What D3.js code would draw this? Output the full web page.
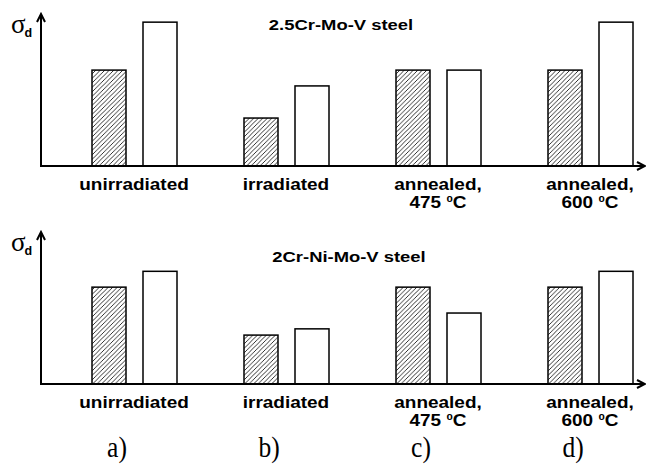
<!DOCTYPE html>
<html>
<head>
<meta charset="utf-8">
<script src="https://cdn.jsdelivr.net/npm/d3@7"></script>
<style>
  body { margin: 0; background: #fff; }
  svg { display: block; }
</style>
</head>
<body>
<div id="chart"></div>
<script>
// categories along x, "|" splits a label into two lines, "⁰" becomes a raised 0
var categories = ["unirradiated", "irradiated", "annealed,|475 ⁰C", "annealed,|600 ⁰C"];
var series = ["hatched", "open"];
var panelLetters = ["a)", "b)", "c)", "d)"];
var titles = ["2.5Cr-Mo-V steel", "2Cr-Ni-Mo-V steel"];

// sigma_d in arbitrary units
var crMoVHatched = [2.0, 1.0, 2.0, 2.0];
var crMoVOpen = [3.0, 1.67, 2.0, 3.0];
var crNiMoVHatched = [2.02, 1.02, 2.02, 2.02];
var crNiMoVOpen = [2.35, 1.15, 1.48, 2.35];

var width = 646, height = 466;
var axisX = 41, axisLen = 152, axisEnd = 645;

var panels = [
    {title: titles[0], hatched: crMoVHatched, open: crMoVOpen, base: 166,
     titleX: 341, titleY: 30, titleSize: 15.5, titleSx: 1.19},
    {title: titles[1], hatched: crNiMoVHatched, open: crNiMoVOpen, base: 384,
     titleX: 349, titleY: 262, titleSize: 14.5, titleSx: 1.27}
];

var svg = d3.select("#chart")
    .append("svg")
    .attr("width", width)
    .attr("height", height);

// diagonal hatch
var pattern = svg.append("defs").append("pattern")
    .attr("id", "hatch")
    .attr("patternUnits", "userSpaceOnUse")
    .attr("width", 4.5)
    .attr("height", 4.5);
pattern.append("rect").attr("width", 4.5).attr("height", 4.5).attr("fill", "#fff");
pattern.append("path")
    .attr("d", "M-1,1 l2,-2 M0,4.5 l4.5,-4.5 M3.5,5.5 l2,-2")
    .attr("stroke", "#000")
    .attr("stroke-width", 0.8);

var x = d3.scaleBand()
    .domain(categories)
    .range([58, 666]);

var xInner = d3.scaleBand()
    .domain(series)
    .range([34, 119])
    .paddingInner(1 / 3);

function stretchedText(g, cx, cy, sx, txt) {
    var t = g.append("text")
        .attr("text-anchor", "middle")
        .attr("transform", "translate(" + cx + "," + cy + ") scale(" + sx + ",1)");
    var parts = txt.split("⁰");
    t.append("tspan").text(parts[0]);
    if (parts.length > 1) {
        t.append("tspan").attr("font-size", "0.6em").attr("dy", -6).text("0");
        t.append("tspan").attr("dy", 6).text(parts[1]);
    }
    return t;
}

panels.forEach(function(p) {
    var y = d3.scaleLinear()
        .domain([0, 3.17])
        .range([p.base, p.base - axisLen]);

    var g = svg.append("g");

    var rows = categories.map(function(c, i) {
        return {cat: c, values: [
            {key: "hatched", value: p.hatched[i]},
            {key: "open", value: p.open[i]}
        ]};
    });

    g.selectAll(".group")
        .data(rows)
        .enter()
        .append("g")
        .attr("class", "group")
        .attr("transform", function(d) { return "translate(" + x(d.cat) + ",0)"; })
        .selectAll("rect")
        .data(function(d) { return d.values; })
        .enter()
        .append("rect")
        .attr("x", function(d) { return xInner(d.key); })
        .attr("width", xInner.bandwidth())
        .attr("y", function(d) { return y(d.value); })
        .attr("height", function(d) { return y(0) - y(d.value); })
        .attr("fill", function(d) { return d.key == "hatched" ? "url(#hatch)" : "#fff"; })
        .attr("stroke", "#000")
        .attr("stroke-width", 1.5);

    // axes with arrow heads
    var top = y.range()[1];
    g.append("path")
        .attr("d", "M" + axisX + "," + (p.base + 1) + "V" + top +
              "M" + (axisX - 4) + "," + (top + 8) + "L" + axisX + "," + top + "L" + (axisX + 4) + "," + (top + 8))
        .attr("fill", "none").attr("stroke", "#000").attr("stroke-width", 2);
    g.append("path")
        .attr("d", "M" + axisX + "," + p.base + "H" + axisEnd +
              "M" + (axisEnd - 8) + "," + (p.base - 4) + "L" + axisEnd + "," + p.base + "L" + (axisEnd - 8) + "," + (p.base + 4))
        .attr("fill", "none").attr("stroke", "#000").attr("stroke-width", 2);

    // sigma_d label
    var s = g.append("text")
        .attr("x", 11)
        .attr("y", top + 19);
    s.append("tspan")
        .attr("font-family", "'Liberation Serif', 'Times New Roman', serif")
        .attr("font-size", 27)
        .text("σ");
    s.append("tspan")
        .attr("font-family", "'Liberation Sans', Arial, sans-serif")
        .attr("font-weight", "bold")
        .attr("font-size", 12.5)
        .attr("dx", -1)
        .attr("dy", 4)
        .text("d");

    // title
    var tg = g.append("g")
        .attr("font-family", "'Liberation Sans', Arial, sans-serif")
        .attr("font-weight", "bold")
        .attr("font-size", p.titleSize);
    stretchedText(tg, p.titleX, p.titleY, p.titleSx, p.title);

    // category labels
    var lg = g.append("g")
        .attr("font-family", "'Liberation Sans', Arial, sans-serif")
        .attr("font-weight", "bold")
        .attr("font-size", 16.5);
    categories.forEach(function(c) {
        var cx = x(c) + x.bandwidth() / 2;
        c.split("|").forEach(function(line, j) {
            stretchedText(lg, cx, p.base + 24 + j * 18, 1.15, line);
        });
    });
});

// a) b) c) d)
var letters = svg.append("g")
    .attr("font-family", "'Liberation Serif', 'Times New Roman', serif")
    .attr("font-size", 30);
categories.forEach(function(c, i) {
    stretchedText(letters, x(c) + x.bandwidth() / 2 - 17, 457, 0.85, panelLetters[i]);
});
</script>
</body>
</html>
